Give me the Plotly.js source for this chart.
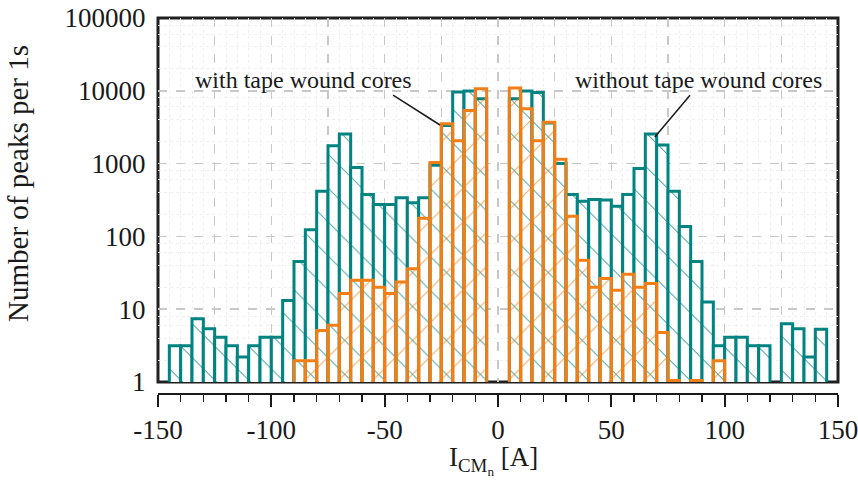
<!DOCTYPE html>
<html>
<head>
<meta charset="utf-8">
<script src="https://cdn.plot.ly/plotly-3.0.1.min.js"></script>
<style>html,body{margin:0;padding:0;background:#fff;}#chart{width:858px;height:481px;}</style>
</head>
<body>
<div id="chart"></div>
<script>
// Bin centres (A), bins 5 A wide
const tealCenters = [-142.5,-137.5,-132.5,-127.5,-122.5,-117.5,-112.5,-107.5,-102.5,-97.5,-92.5,-87.5,-82.5,-77.5,-72.5,-67.5,-62.5,-57.5,-52.5,-47.5,-42.5,-37.5,-32.5,-27.5,-22.5,-17.5,-12.5,-7.5,
  7.5,12.5,17.5,22.5,27.5,32.5,37.5,42.5,47.5,52.5,57.5,62.5,67.5,72.5,77.5,82.5,87.5,92.5,97.5,102.5,107.5,112.5,117.5,122.5,127.5,132.5,137.5,142.5];
// without tape wound cores
const tealCounts = [3.15,3.15,7.4,5.4,4.1,3.15,2.2,3.15,4.1,4.1,13.2,45,123,417,1758,2555,885,377,274,274,339,289,339,950,3330,9660,9900,7800,
  7800,9900,9500,3600,1000,377,305,321,315,260,377,855,2555,1800,417,137,45,12.5,3.15,4.1,4.1,3.15,3.15,null,6.3,5.4,2.2,5.3];
const orangeCenters = [-87.5,-82.5,-77.5,-72.5,-67.5,-62.5,-57.5,-52.5,-47.5,-42.5,-37.5,-32.5,-27.5,-22.5,-17.5,-12.5,-7.5,
  7.5,12.5,17.5,22.5,27.5,32.5,37.5,42.5,47.5,52.5,57.5,62.5,67.5,72.5,77.5,87.5,97.5];
// with tape wound cores
const orangeCounts = [1.95,1.95,5.1,6.0,16.4,25,25,20,16.4,23.7,36,178,1035,3515,2063,5370,10700,
  10960,5670,2063,3710,1150,189,47,20,26.4,18.2,30.3,20,22.5,4.8,1.05,1.05,1.95];
const binWidth = 5;
const yTickVals = [1,10,100,1000,10000,100000];
const yTickText = ['1','10','100','1000','10000','100000'];
const xTickVals = [-150,-100,-50,0,50,100,150];
const xTickText = ['-150','-100','-50','0','50','100','150'];
const yMinorVals = [2,4,6,8,20,40,60,80,200,400,600,800,2000,4000,6000,8000,20000,40000,60000,80000];

const TEAL = '#008482';
const ORANGE = '#F27F16';
const INK = '#1a1a1a';
const FONT = '"Liberation Serif", "Times New Roman", serif';

const traces = [
  {type:'bar', x:tealCenters, y:tealCounts, width:binWidth, xaxis:'x', yaxis:'y',
   marker:{color:'white', line:{color:TEAL, width:3},
     pattern:{shape:'\\', fgcolor:TEAL, bgcolor:'white', size:24, solidity:0.04, fillmode:'replace'}},
   hoverinfo:'skip'},
  {type:'bar', x:orangeCenters, y:orangeCounts, width:binWidth, xaxis:'x', yaxis:'y',
   marker:{color:'rgba(0,0,0,0)', line:{color:ORANGE, width:3},
     pattern:{shape:'/', fgcolor:ORANGE, bgcolor:'rgba(0,0,0,0)', size:24, solidity:0.04, fillmode:'replace'}},
   hoverinfo:'skip'},
  {type:'scatter', mode:'markers', x:[-150,150], y:[1,1], xaxis:'x2', yaxis:'y', marker:{opacity:0}, hoverinfo:'skip'}
];

const layout = {
  width:858, height:481,
  margin:{l:158, r:20, t:18, b:87},
  paper_bgcolor:'white', plot_bgcolor:'white',
  showlegend:false, barmode:'overlay', bargap:0,
  font:{family:FONT, size:24, color:INK},
  xaxis:{range:[-150,150], anchor:'y', showticklabels:false, ticks:'', zeroline:false, showline:false,
    tick0:0, dtick:25, showgrid:true, gridcolor:'#c8c8c8', gridwidth:1.5, griddash:'dash',
    minor:{dtick:5, tick0:0, showgrid:true, gridcolor:'#efefef', gridwidth:1, griddash:'dot', ticks:''}},
  xaxis2:{range:[-150,150], overlaying:'x', anchor:'free', position:0, side:'bottom',
    tickmode:'array', tickvals:xTickVals, ticktext:xTickText, ticks:'outside', ticklen:12, tickwidth:2, tickcolor:INK,
    showline:true, linecolor:INK, linewidth:2, showgrid:false, zeroline:false, ticklabeloverflow:'allow',
    tickfont:{family:FONT, size:27, color:INK},
    minor:{dtick:10, tick0:0, ticks:'outside', ticklen:7, tickwidth:1.5, tickcolor:INK, showgrid:false}},
  yaxis:{type:'log', range:[0,5], domain:[0.032,1], tickmode:'array', tickvals:yTickVals, ticktext:yTickText,
    ticks:'outside', ticklen:6, tickcolor:'rgba(0,0,0,0)', showline:false, zeroline:false,
    showgrid:true, gridcolor:'#c8c8c8', gridwidth:1.5, griddash:'dash',
    tickfont:{family:FONT, size:27, color:INK},
    minor:{tickmode:'array', tickvals:yMinorVals, showgrid:true, gridcolor:'#efefef', gridwidth:1, griddash:'dot', ticks:''}},
  shapes:[
    {type:'rect', xref:'x domain', yref:'y domain', x0:0, x1:1, y0:0, y1:1, line:{color:'#202020', width:3}, layer:'below'},
    {type:'line', xref:'x', yref:'y domain', x0:-46.3, y0:0.788, x1:-25.6, y1:0.706, line:{color:INK, width:1.5}},
    {type:'line', xref:'x', yref:'y domain', x0:84.7, y0:0.788, x1:69.2, y1:0.673, line:{color:INK, width:1.5}}
  ],
  annotations:[
    {text:'with tape wound cores', xref:'x', yref:'y domain', x:-85.6, y:0.83, xanchor:'center', yanchor:'middle', showarrow:false, font:{family:FONT, size:24, color:INK}},
    {text:'without tape wound cores', xref:'x', yref:'y domain', x:88.6, y:0.83, xanchor:'center', yanchor:'middle', showarrow:false, font:{family:FONT, size:24, color:INK}},
    {text:'Number of peaks per 1s', xref:'paper', yref:'paper', x:-0.206, y:0.561, xanchor:'center', yanchor:'middle', textangle:-90, showarrow:false, font:{family:FONT, size:29, color:INK}},
    {text:'I<sub>CM<sub>n</sub></sub> [A]', xref:'paper', yref:'paper', x:0.494, y:-0.176, xanchor:'center', yanchor:'middle', showarrow:false, font:{family:FONT, size:27, color:INK}}
  ]
};

Plotly.newPlot('chart', traces, layout, {staticPlot:true, displayModeBar:false});
</script>
</body>
</html>
